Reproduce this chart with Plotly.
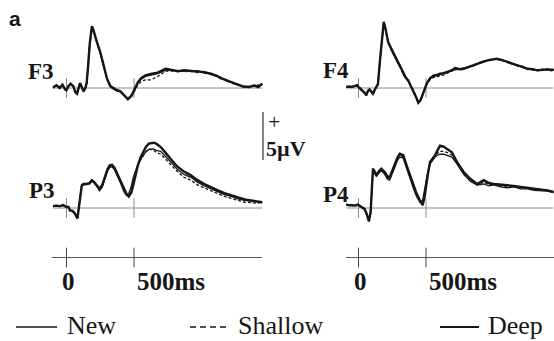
import plotly.graph_objects as go

# ---------------- data (time in ms, amplitude in microvolts, positive up) -------------
T_F3 = [-100, -75, -50, -30, -10, 0, 15, 30, 50, 65, 78, 90, 100, 113, 126, 140, 150, 160, 172, 188,
        200, 225, 250, 275, 300, 325, 362, 400, 430, 455, 480, 505, 530, 555, 585, 625, 675, 735, 780, 825,
        870, 920, 970, 1020, 1070, 1110, 1150, 1190, 1230, 1270, 1310, 1350, 1390, 1420, 1450]
DEEP_F3 = [0.05, 0.28, 0.0, 0.35, -0.14, -0.24, 0.2, 0.45, 0.2, -0.42, -0.59, 0.1, 0.52, 0.1, -0.35,
           0.0, 0.6, 2.3, 4.6, 6.45, 6.0, 4.8, 3.75, 2.36, 0.97, 0.2, -0.14, -0.35, -0.76, -1.18,
           -0.83, -0.14, 0.63, 1.04, 1.32, 1.46, 1.6, 2.0, 1.84, 1.75, 1.85, 1.8, 1.75, 1.65, 1.5,
           1.3, 1.0, 0.75, 0.55, 0.35, 0.15, 0.1, 0.25, 0.1, 0.45]
NEW_F3 = [0.1, 0.22, 0.05, 0.3, -0.1, -0.2, 0.15, 0.4, 0.25, -0.35, -0.5, 0.05, 0.45, 0.15, -0.3,
          0.05, 0.55, 2.2, 4.5, 6.35, 5.95, 4.75, 3.7, 2.3, 0.9, 0.15, -0.2, -0.4, -0.8, -1.1,
          -0.75, -0.2, 0.55, 0.95, 1.2, 1.35, 1.5, 1.85, 1.9, 1.7, 1.8, 1.7, 1.8, 1.55, 1.45,
          1.2, 1.05, 0.7, 0.6, 0.3, 0.2, 0.05, 0.3, 0.2, 0.4]
SHALLOW_F3 = [0.0, 0.25, 0.1, 0.25, -0.2, -0.15, 0.25, 0.35, 0.15, -0.4, -0.55, 0.15, 0.4, 0.05, -0.3,
              0.0, 0.5, 2.25, 4.55, 6.3, 5.9, 4.7, 3.65, 2.3, 0.95, 0.1, -0.25, -0.45, -0.85, -1.15,
              -0.9, -0.3, 0.35, 0.7, 0.85, 0.85, 1.2, 1.75, 1.8, 1.8, 1.7, 1.75, 1.6, 1.7, 1.4,
              1.25, 0.9, 0.8, 0.45, 0.4, 0.1, 0.15, 0.2, 0.25, 0.35]

T_F4 = [-90, -70, -50, -30, -10, 0, 15, 30, 45, 57, 70, 82, 95, 107, 120, 132, 144, 160, 175, 187,
        200, 219, 240, 256, 275, 294, 315, 331, 350, 368, 386, 405, 425, 443, 458, 470, 485, 505, 530, 555,
        580, 604, 630, 654, 685, 716, 750, 779, 815, 853, 890, 928, 965, 1000, 1027, 1065, 1102, 1140, 1177, 1215,
        1252, 1290, 1326, 1365, 1400, 1430, 1445]
DEEP_F4 = [0.1, 0.15, 0.1, 0.2, 0.3, 0.1, -0.1, -0.25, -0.5, -0.75, -0.3, -0.15, -0.4, -0.6, -0.2,
           0.1, 0.4, 3.0, 5.6, 6.9, 6.2, 4.8, 4.2, 3.75, 3.2, 2.7, 2.1, 1.5, 1.1, 0.8,
           0.3, -0.25, -0.9, -1.53, -1.3, -0.9, -0.3, 0.45, 1.0, 1.3, 1.35, 1.5, 1.55, 1.67, 1.8,
           2.08, 1.95, 2.0, 2.2, 2.4, 2.6, 2.78, 2.9, 3.0, 3.05, 2.9, 2.7, 2.5, 2.36, 2.2,
           2.0, 1.95, 1.84, 1.9, 1.94, 1.85, 1.94]
NEW_F4 = [0.15, 0.1, 0.15, 0.25, 0.25, 0.05, -0.15, -0.3, -0.45, -0.7, -0.35, -0.2, -0.45, -0.55, -0.15,
          0.1, 0.35, 2.9, 5.5, 6.8, 6.1, 4.9, 4.0, 3.5, 3.0, 2.5, 2.0, 1.4, 1.0, 0.7,
          0.2, -0.3, -0.95, -1.45, -1.25, -0.85, -0.25, 0.5, 1.05, 1.25, 1.3, 1.4, 1.45, 1.55, 1.75,
          1.9, 2.0, 2.05, 2.15, 2.3, 2.55, 2.7, 2.95, 2.95, 3.0, 2.85, 2.75, 2.45, 2.4, 2.15,
          2.05, 1.9, 1.9, 1.85, 2.0, 1.9, 1.85]
SHALLOW_F4 = [0.05, 0.2, 0.1, 0.15, 0.3, 0.15, -0.05, -0.2, -0.55, -0.8, -0.25, -0.1, -0.35, -0.65, -0.25,
              0.05, 0.45, 3.1, 5.5, 6.85, 6.15, 4.7, 4.1, 3.6, 3.1, 2.6, 2.05, 1.45, 1.05, 0.75,
              0.25, -0.2, -0.85, -1.5, -1.35, -0.95, -0.35, 0.35, 0.85, 1.1, 1.15, 1.3, 1.35, 1.5, 1.7,
              1.95, 1.9, 1.95, 2.25, 2.35, 2.65, 2.75, 2.85, 3.05, 2.95, 2.95, 2.65, 2.55, 2.3, 2.25,
              1.95, 2.0, 1.8, 1.95, 1.9, 1.95, 1.9]

T_P3 = [-100, -75, -50, -25, -11, 0, 15, 26, 45, 63, 81, 95, 113, 126, 150, 170, 188, 205, 225, 245,
        265, 285, 305, 320, 337, 355, 375, 400, 425, 445, 461, 480, 495, 511, 530, 549, 570, 590, 610, 623,
        645, 665, 698, 725, 747, 785, 822, 870, 922, 970, 1021, 1070, 1121, 1170, 1220, 1270, 1320, 1370, 1419, 1450]
DEEP_P3 = [0.2, 0.25, 0.2, 0.3, 0.2, 0.1, 0.1, -0.25, -0.3, -0.6, -1.1, 0.5, 2.36, 2.5, 2.5,
           2.6, 2.9, 2.7, 2.4, 2.0, 2.4, 3.3, 4.1, 4.45, 4.5, 4.2, 3.6, 2.8, 2.0, 1.45,
           1.2, 1.6, 2.4, 3.4, 4.5, 5.3, 5.9, 6.4, 6.7, 6.75, 6.8, 6.7, 6.35, 5.9, 5.5,
           4.9, 4.3, 3.8, 3.4, 2.9, 2.5, 2.15, 1.84, 1.55, 1.3, 1.1, 0.9, 0.8, 0.7, 0.6]
NEW_P3 = [0.25, 0.2, 0.25, 0.25, 0.15, 0.15, 0.05, -0.2, -0.35, -0.55, -1.0, 0.4, 2.3, 2.4, 2.45,
          2.5, 2.8, 2.6, 2.25, 1.8, 2.2, 3.1, 3.9, 4.2, 4.3, 4.0, 3.4, 2.6, 1.7, 1.3,
          1.5, 2.3, 3.2, 3.9, 4.6, 5.1, 5.5, 5.9, 6.1, 6.1, 6.15, 6.0, 5.9, 5.5, 5.2,
          4.6, 4.0, 3.5, 3.2, 2.7, 2.3, 2.0, 1.7, 1.4, 1.2, 0.95, 0.8, 0.7, 0.6, 0.55]
SHALLOW_P3 = [0.15, 0.3, 0.15, 0.3, 0.25, 0.05, 0.15, -0.3, -0.25, -0.65, -1.05, 0.45, 2.3, 2.45, 2.55,
              2.45, 2.85, 2.65, 2.3, 1.9, 2.3, 3.2, 4.0, 4.3, 4.4, 4.1, 3.5, 2.7, 1.85, 1.35,
              1.35, 2.0, 2.9, 3.7, 4.5, 5.0, 5.5, 5.9, 6.1, 6.1, 6.0, 5.8, 5.6, 5.2, 4.9,
              4.3, 3.8, 3.2, 2.9, 2.4, 2.1, 1.8, 1.5, 1.2, 1.0, 0.8, 0.6, 0.55, 0.5, 0.6]

T_P4 = [-90, -67, -45, -25, -5, 10, 25, 45, 60, 77, 90, 100, 107, 120, 132, 150, 169, 194, 215, 231,
        250, 269, 290, 306, 331, 355, 381, 405, 430, 455, 475, 490, 500, 515, 530, 550, 567, 585, 604, 630,
        654, 692, 729, 779, 828, 878, 928, 965, 1002, 1050, 1102, 1150, 1201, 1250, 1301, 1350, 1400, 1445]
DEEP_P4 = [0.35, 0.28, 0.3, 0.25, 0.35, 0.2, 0.1, -0.1, -0.6, -1.4, -0.4, 2.5, 4.1, 3.8, 3.4,
           3.8, 4.1, 3.75, 3.3, 3.2, 3.9, 4.6, 5.3, 5.66, 5.5, 4.5, 3.4, 2.5, 1.5, 0.8,
           0.3, 1.2, 2.36, 3.6, 4.8, 5.2, 5.5, 6.0, 6.5, 6.4, 6.2, 5.8, 4.8, 3.75, 3.05,
           2.5, 2.9, 2.6, 2.5, 2.45, 2.36, 2.3, 2.2, 2.1, 2.0, 1.95, 1.84, 1.67]
NEW_P4 = [0.3, 0.32, 0.25, 0.3, 0.3, 0.25, 0.05, -0.15, -0.55, -1.3, -0.5, 2.4, 3.9, 3.6, 3.3,
          3.6, 3.9, 3.5, 3.0, 2.9, 3.6, 4.3, 5.0, 5.3, 5.2, 4.2, 3.0, 2.1, 1.2, 0.6,
          0.8, 2.0, 3.0, 3.9, 4.6, 5.0, 5.3, 5.5, 5.6, 5.6, 5.5, 5.3, 4.6, 3.5, 2.8,
          2.4, 2.5, 2.3, 2.4, 2.2, 2.1, 2.2, 2.0, 2.0, 1.85, 1.8, 1.75, 1.6]
SHALLOW_P4 = [0.4, 0.25, 0.3, 0.2, 0.4, 0.15, 0.15, -0.05, -0.65, -1.35, -0.45, 2.45, 4.0, 3.7, 3.35,
              3.7, 4.0, 3.6, 3.15, 3.05, 3.75, 4.45, 5.15, 5.5, 5.35, 4.35, 3.2, 2.3, 1.35, 0.7,
              0.55, 1.6, 2.7, 3.8, 4.7, 5.1, 5.4, 5.7, 5.9, 5.9, 5.8, 5.5, 4.7, 3.6, 2.9,
              2.45, 2.7, 2.45, 2.45, 2.3, 2.25, 2.25, 2.1, 2.05, 1.9, 1.9, 1.8, 1.65]

CHANNELS = ["F3", "F4", "P3", "P4"]
CONDITIONS = ["New", "Shallow", "Deep"]
TICKS_MS = [0, 500]
TICK_LABELS = ["0", "500ms"]
EPOCH_MS = [-100, 1450]
SCALE_UV = [5, 10]          # 5 µV calibration bar
SCALE_LABEL = "5\u00b5V"

for t, a, b, c in [(T_F3, NEW_F3, SHALLOW_F3, DEEP_F3), (T_F4, NEW_F4, SHALLOW_F4, DEEP_F4),
                   (T_P3, NEW_P3, SHALLOW_P3, DEEP_P3), (T_P4, NEW_P4, SHALLOW_P4, DEEP_P4)]:
    assert len(t) == len(a) == len(b) == len(c), (len(t), len(a), len(b), len(c))

# ---------------- layout geometry ----------------
W, H = 554, 341
PXMS = 0.135      # px per ms
PXUV = 9.6        # px per µV


def xrange_for(x0_px, left_px, right_px):
    return [(left_px - x0_px) / PXMS, (right_px - x0_px) / PXMS]


def ydom(top_px, bot_px):
    return [1 - bot_px / H, 1 - top_px / H]


def yrange_for(base_px, top_px, bot_px):
    return [(base_px - bot_px) / PXUV, (base_px - top_px) / PXUV]


LEFT0, RIGHT0 = 66.5, 358.5
xr_left = xrange_for(LEFT0, 0, 277)
xr_right = xrange_for(RIGHT0, 277, 554)

INK = "#161616"
GREY = "#8a8a8a"
SERIF = "Liberation Serif"

fig = go.Figure()

panels = [
    ("F3", T_F3, NEW_F3, SHALLOW_F3, DEEP_F3, "x", "y"),
    ("F4", T_F4, NEW_F4, SHALLOW_F4, DEEP_F4, "x2", "y2"),
    ("P3", T_P3, NEW_P3, SHALLOW_P3, DEEP_P3, "x3", "y3"),
    ("P4", T_P4, NEW_P4, SHALLOW_P4, DEEP_P4, "x4", "y4"),
]

styles = {
    "New": dict(color=INK, width=1.3),
    "Shallow": dict(color=INK, width=1.3, dash="3px,2px"),
    "Deep": dict(color=INK, width=2.4),
}

for ch, t, new, sh, deep, xa, ya in panels:
    # zero baseline with 0 / 500 ms ticks
    fig.add_trace(go.Scatter(x=[t[0], t[-1]], y=[0, 0], mode="lines",
                             line=dict(color=GREY, width=1), xaxis=xa, yaxis=ya,
                             showlegend=False, hoverinfo="skip"))
    fig.add_trace(go.Scatter(x=TICKS_MS, y=[0, 0], mode="markers",
                             marker=dict(symbol="line-ns", size=14, line=dict(color=GREY, width=1)),
                             xaxis=xa, yaxis=ya, showlegend=False, hoverinfo="skip"))
    for name, vals in zip(CONDITIONS, [new, sh, deep]):
        fig.add_trace(go.Scatter(x=t, y=vals, mode="lines", name=name, line=styles[name],
                                 xaxis=xa, yaxis=ya, showlegend=False))

# time axes under each column
for xa, ya, start in [("x5", "y5", -107), ("x6", "y6", -93)]:
    fig.add_trace(go.Scatter(x=[start, EPOCH_MS[1]], y=[0, 0], mode="lines",
                             line=dict(color="#555555", width=1), xaxis=xa, yaxis=ya,
                             showlegend=False, hoverinfo="skip"))
    fig.add_trace(go.Scatter(x=TICKS_MS, y=[0, 0], mode="markers",
                             marker=dict(symbol="line-ns", size=14, line=dict(color="#444444", width=1)),
                             xaxis=xa, yaxis=ya, showlegend=False, hoverinfo="skip"))

hidden = dict(visible=False, fixedrange=True)
top_dom = ydom(0, 130)
bot_dom = ydom(100, 240)
ax_dom = ydom(245, 270)
fig.update_layout(
    width=W, height=H, autosize=False,
    margin=dict(l=0, r=0, t=0, b=0),
    paper_bgcolor="white", plot_bgcolor="rgba(0,0,0,0)",
    showlegend=False,
    xaxis=dict(domain=[0, 0.5], range=xr_left, **hidden),
    yaxis=dict(domain=top_dom, range=yrange_for(88, 0, 130), **hidden),
    xaxis2=dict(domain=[0.5, 1], range=xr_right, **hidden),
    yaxis2=dict(domain=top_dom, range=yrange_for(88, 0, 130), **hidden),
    xaxis3=dict(domain=[0, 0.5], range=xr_left, **hidden),
    yaxis3=dict(domain=bot_dom, range=yrange_for(208, 100, 240), **hidden),
    xaxis4=dict(domain=[0.5, 1], range=xr_right, **hidden),
    yaxis4=dict(domain=bot_dom, range=yrange_for(208, 100, 240), **hidden),
    xaxis5=dict(domain=[0, 0.5], range=xr_left, **hidden),
    yaxis5=dict(domain=ax_dom, range=[-1, 1], **hidden),
    xaxis6=dict(domain=[0.5, 1], range=xr_right, **hidden),
    yaxis6=dict(domain=ax_dom, range=[-1, 1], **hidden),
)

ann = []


def px(x):
    return x / W


def py(y):
    return 1 - y / H


# panel letter
ann.append(dict(text="<b>a</b>", x=px(7), y=py(19), xref="paper", yref="paper",
                xanchor="left", yanchor="middle", showarrow=False,
                font=dict(family="Liberation Sans", size=21, color=INK)))
# channel labels
for ch, xp, yp in [("F3", 26, 71), ("F4", 321, 70), ("P3", 27, 191), ("P4", 321, 194)]:
    ann.append(dict(text="<b>%s</b>" % ch, x=px(xp), y=py(yp), xref="paper", yref="paper",
                    xanchor="left", yanchor="middle", showarrow=False,
                    font=dict(family=SERIF, size=23, color=INK)))
# time tick labels
for xa in ["x5", "x6"]:
    ann.append(dict(text="<b>%s</b>" % TICK_LABELS[0], x=TICKS_MS[0] + 12, y=py(281), xref=xa, yref="paper",
                    xanchor="center", yanchor="middle", showarrow=False,
                    font=dict(family=SERIF, size=25, color=INK)))
    ann.append(dict(text="<b>%s</b>" % TICK_LABELS[1], x=TICKS_MS[1] + 4, y=py(281), xref=xa, yref="paper",
                    xanchor="left", yanchor="middle", showarrow=False,
                    font=dict(family=SERIF, size=25, color=INK)))
# calibration labels
ann.append(dict(text="+", x=px(266), y=py(121), xref="paper", yref="paper",
                xanchor="left", yanchor="middle", showarrow=False,
                font=dict(family=SERIF, size=22, color=INK)))
ann.append(dict(text="<b>%s</b>" % SCALE_LABEL, x=px(264), y=py(148), xref="paper", yref="paper",
                xanchor="left", yanchor="middle", showarrow=False,
                font=dict(family=SERIF, size=22, color=INK)))
# legend texts
for name, xp in zip(CONDITIONS, [65, 236, 486]):
    ann.append(dict(text=name, x=px(xp), y=py(325), xref="paper", yref="paper",
                    xanchor="left", yanchor="middle", showarrow=False,
                    font=dict(family=SERIF, size=26, color=INK)))
fig.update_layout(annotations=ann)

shapes = [
    # 5 µV calibration bar, in the P3 panel's µV scale
    dict(type="line", xref="paper", yref="y3", x0=px(263), x1=px(263), y0=SCALE_UV[0], y1=SCALE_UV[1],
         line=dict(color="#333333", width=1.2)),
    # legend samples
    dict(type="line", xref="paper", yref="paper", x0=px(16), x1=px(57), y0=py(327), y1=py(327),
         line=dict(color=INK, width=1.6)),
    dict(type="line", xref="paper", yref="paper", x0=px(190), x1=px(230), y0=py(327), y1=py(327),
         line=dict(color=INK, width=1.6, dash="6px,4px")),
    dict(type="line", xref="paper", yref="paper", x0=px(440), x1=px(479), y0=py(327), y1=py(327),
         line=dict(color=INK, width=2.2)),
]
fig.update_layout(shapes=shapes)

fig.write_html("out.html", config={"displayModeBar": False},
               post_script="document.body.style.margin='0';document.body.style.padding='0';"
                           "document.body.style.overflow='hidden';")
